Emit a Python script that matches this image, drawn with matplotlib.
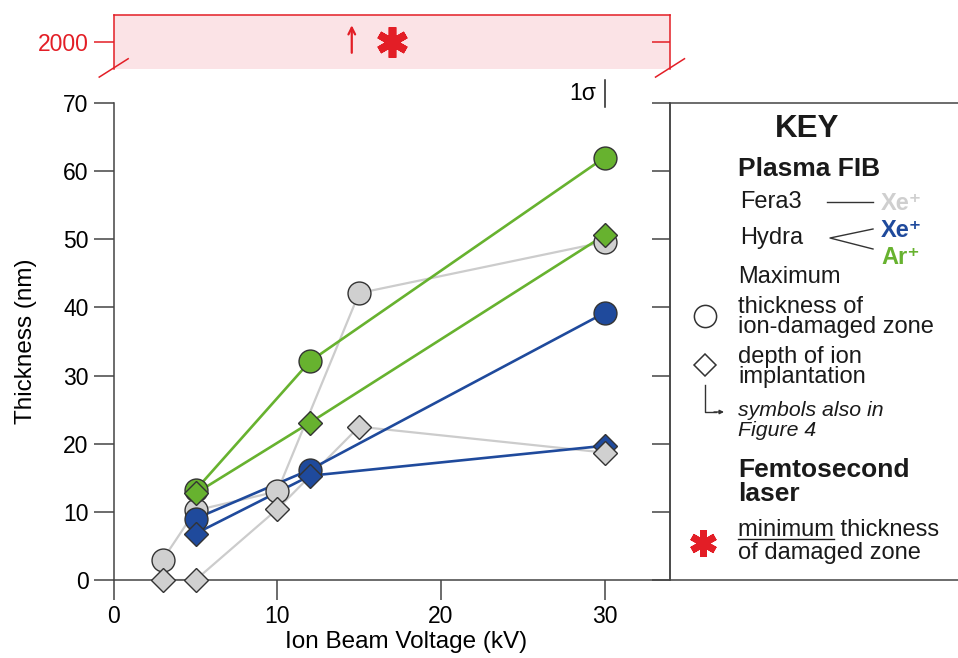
import numpy as np
import matplotlib.pyplot as plt
from matplotlib.lines import Line2D
from matplotlib.patches import Rectangle, FancyArrowPatch

plt.rcParams['font.family'] = ['Liberation Sans', 'DejaVu Sans']

# Fera3 plasma FIB, Xe+ beam
fera_xe_kv = [3, 5, 10, 15, 30]
fera_xe_damage = [3.0, 10.2, 13.0, 42.1, 49.6]
fera_xe_implant = [0.0, 0.0, 10.4, 22.5, 18.7]

# Hydra plasma FIB, Xe+ beam
hydra_xe_kv = [5, 12, 30]
hydra_xe_damage = [9.0, 16.2, 39.2]
hydra_xe_implant = [6.8, 15.3, 19.7]

# Hydra plasma FIB, Ar+ beam
hydra_ar_kv = [5, 12, 30]
hydra_ar_damage = [13.2, 32.1, 62.0]
hydra_ar_implant = [12.7, 23.1, 50.6]

# femtosecond laser, minimum damaged thickness (nm)
laser_kv = [17]
laser_nm = [2000]

# 1 sigma scale bar
sigma_kv = 30
sigma_base = 69.4
sigma_nm = 4.0

x_ticks = [0, 10, 20, 30]
y_ticks = [0, 10, 20, 30, 40, 50, 60, 70]

GREY_LINE = '#cccccc'
GREY_FILL = '#d0d0d0'
BLUE = '#1f4a9c'
GREEN = '#67b22f'
EDGE = '#333333'
AXIS = '#444444'
RED = '#e31e26'
PINK = '#fbe3e6'

W, H = 958, 658
fig = plt.figure(figsize=(W / 100, H / 100), dpi=100)


def fx(x):
    return x / W


def fy(y):
    return 1 - y / H


L, R, T, B = 113.7, 670, 103, 580

# ---- main panel ----
ax = fig.add_axes([fx(L), fy(B), (R - L) / W, (B - T) / H])
ax.set_xlim(0, 34)
ax.set_ylim(0, 70)
ax.set_xticks(x_ticks)
ax.set_yticks(y_ticks)
ax.spines['top'].set_visible(False)
for s in ['left', 'bottom', 'right']:
    ax.spines[s].set_color(AXIS)
    ax.spines[s].set_linewidth(1.1)
ax.tick_params(direction='out', length=14.5, width=1.1, color=AXIS,
               labelsize=16.5, pad=3.5)
ax.tick_params(axis='y', right=False)

ax_r = ax.twinx()
ax_r.set_ylim(0, 70)
ax_r.set_yticks(y_ticks)
ax_r.tick_params(direction='in', length=13, width=1.1, color=AXIS, labelright=False)
for s in ax_r.spines.values():
    s.set_visible(False)

ax.set_xlabel('Ion Beam Voltage (kV)', fontsize=17.5)
ax.xaxis.set_label_coords((406.5 - L) / (R - L), -(631 - B) / (B - T))
ax.set_ylabel('Thickness (nm)', fontsize=17.5)
ax.yaxis.set_label_coords(-(L - 37) / (R - L), 0.5)

# connecting lines
ax.plot(fera_xe_kv, fera_xe_damage, '-', color=GREY_LINE, lw=1.6, zorder=2)
ax.plot(fera_xe_kv, fera_xe_implant, '-', color=GREY_LINE, lw=1.6, zorder=2)
ax.plot(hydra_xe_kv, hydra_xe_damage, '-', color=BLUE, lw=1.9, zorder=3)
ax.plot(hydra_xe_kv, hydra_xe_implant, '-', color=BLUE, lw=1.9, zorder=3)
ax.plot(hydra_ar_kv, hydra_ar_damage, '-', color=GREEN, lw=1.9, zorder=3)
ax.plot(hydra_ar_kv, hydra_ar_implant, '-', color=GREEN, lw=1.9, zorder=3)

# markers: circles = damaged zone, diamonds = implantation depth
mk = dict(linestyle='none', mec=EDGE, mew=1.0, clip_on=False)
ax.plot(fera_xe_kv, fera_xe_damage, 'o', ms=16.5, mfc=GREY_FILL, zorder=4, **mk)
ax.plot(hydra_xe_kv, hydra_xe_damage, 'o', ms=16.5, mfc=BLUE, zorder=5, **mk)
ax.plot(hydra_ar_kv, hydra_ar_damage, 'o', ms=16.5, mfc=GREEN, zorder=5, **mk)
ax.plot(hydra_xe_kv, hydra_xe_implant, 'D', ms=12.5, mfc=BLUE, zorder=6, **mk)
ax.plot(hydra_ar_kv, hydra_ar_implant, 'D', ms=12.5, mfc=GREEN, zorder=6, **mk)
ax.plot(fera_xe_kv, fera_xe_implant, 'D', ms=12.5, mfc=GREY_FILL, zorder=7, **mk)

# 1 sigma bar above the plot
ax.plot([sigma_kv, sigma_kv], [sigma_base, sigma_base + sigma_nm], color='#222222',
        lw=1.1, clip_on=False)
ax.text(sigma_kv - 0.5, sigma_base + sigma_nm / 2, '1σ', ha='right', va='center',
        fontsize=16.5, family=['Liberation Sans', 'DejaVu Sans'])

# ---- broken upper panel for the laser value ----
PT, PB = 15, 69
top = fig.add_axes([fx(L), fy(PB), (R - L) / W, (PB - PT) / H])
top.set_xlim(0, 34)
top.set_ylim(1900, 2100)
top.set_facecolor(PINK)
top.spines['bottom'].set_visible(False)
for s in ['left', 'right', 'top']:
    top.spines[s].set_color(RED)
    top.spines[s].set_linewidth(1.1)
top.set_xticks([])
top.set_yticks([2000])
top.tick_params(axis='y', direction='out', length=14.5, width=1.1, colors=RED,
                labelsize=16.5, pad=3.5)
top_r = top.twinx()
top_r.set_ylim(1900, 2100)
top_r.set_yticks([2000])
top_r.tick_params(direction='in', length=13, width=1.1, colors=RED, labelright=False)
for s in top_r.spines.values():
    s.set_visible(False)

top.plot(laser_kv, laser_nm, marker=(6, 2, 0), ms=22, mew=5.5, color=RED,
         linestyle='none', clip_on=False)
top.annotate('', xy=(laser_kv[0] - 2.45, laser_nm[0] + 62),
             xytext=(laser_kv[0] - 2.45, laser_nm[0] - 40),
             arrowprops=dict(arrowstyle='->', color=RED, lw=1.6,
                             mutation_scale=12, shrinkA=0, shrinkB=0))

# break marks
d = 0.026
for x0 in (0, 1):
    top.plot([x0 - d, x0 + d], [-0.15, 0.19], color=RED, lw=1.1,
             transform=top.transAxes, clip_on=False)

# ---- key ----
fig.add_artist(Rectangle((fx(R), fy(B)), (W + 20 - R) / W, (B - T) / H,
                         transform=fig.transFigure, fill=False,
                         edgecolor=AXIS, lw=1.1, clip_on=False))

TXT = '#1a1a1a'
fig.text(fx(807), fy(129), 'KEY', ha='center', va='center', fontsize=22.5,
         weight='bold', color=TXT)
fig.text(fx(738), fy(169), 'Plasma FIB', ha='left', va='center', fontsize=19,
         weight='bold', color=TXT)
fig.text(fx(740), fy(202), 'Fera3', ha='left', va='center', fontsize=17, color=TXT)
fig.text(fx(740), fy(238), 'Hydra', ha='left', va='center', fontsize=17, color=TXT)
fig.add_artist(Line2D([fx(827), fx(873)], [fy(202), fy(202)], color=EDGE, lw=1.0))
fig.add_artist(Line2D([fx(873), fx(830), fx(873)], [fy(229), fy(238), fy(249)],
                      color=EDGE, lw=1.0))
fig.text(fx(881), fy(203), 'Xe⁺', ha='left', va='center', fontsize=17,
         weight='bold', color='#cfcfcf')
fig.text(fx(881), fy(230), 'Xe⁺', ha='left', va='center', fontsize=17,
         weight='bold', color=BLUE)
fig.text(fx(881), fy(258), 'Ar⁺', ha='left', va='center', fontsize=17,
         weight='bold', color=GREEN)

fig.text(fx(738), fy(277), 'Maximum', ha='left', va='center', fontsize=17, color=TXT)
fig.text(fx(738), fy(307), 'thickness of', ha='left', va='center', fontsize=17, color=TXT)
fig.text(fx(738), fy(327), 'ion-damaged zone', ha='left', va='center', fontsize=17,
         color=TXT)
fig.add_artist(Line2D([fx(705)], [fy(316)], marker='o', ms=16, mfc='white',
                      mec=EDGE, mew=1.1))
fig.text(fx(738), fy(357), 'depth of ion', ha='left', va='center', fontsize=17, color=TXT)
fig.text(fx(738), fy(377), 'implantation', ha='left', va='center', fontsize=17, color=TXT)
fig.add_artist(Line2D([fx(705)], [fy(365)], marker='D', ms=11.5, mfc='white',
                      mec=EDGE, mew=1.1))

fig.add_artist(Line2D([fx(705), fx(705), fx(716)], [fy(385), fy(412), fy(412)],
                      color=EDGE, lw=1.0))
fig.add_artist(FancyArrowPatch((fx(714), fy(412)), (fx(724), fy(412)),
                               transform=fig.transFigure, arrowstyle='-|>',
                               mutation_scale=6, color=EDGE, lw=1.0,
                               shrinkA=0, shrinkB=0))
fig.text(fx(738), fy(410), 'symbols also in', ha='left', va='center', fontsize=15.3,
         style='italic', color=TXT)
fig.text(fx(738), fy(431), 'Figure 4', ha='left', va='center', fontsize=15.3,
         style='italic', color=TXT)

fig.text(fx(738), fy(470), 'Femtosecond', ha='left', va='center', fontsize=19,
         weight='bold', color=TXT)
fig.text(fx(738), fy(494), 'laser', ha='left', va='center', fontsize=19,
         weight='bold', color=TXT)
fig.add_artist(Line2D([fx(703)], [fy(543)], marker=(6, 2, 0), ms=19, mew=5,
                      color=RED))
fig.text(fx(738), fy(536), 'minimum thickness', ha='left', va='baseline',
         fontsize=17, color=TXT)
fig.text(fx(738), fy(559), 'of damaged zone', ha='left', va='baseline',
         fontsize=17, color=TXT)

# underline the word "minimum"
renderer = fig.canvas.get_renderer()
probe = fig.text(fx(738), fy(536), 'minimum', ha='left', va='baseline', fontsize=17)
bb = probe.get_window_extent(renderer)
probe.remove()
fig.add_artist(Line2D([bb.x0 / W, bb.x1 / W], [fy(539), fy(539)], color=TXT, lw=1.0))

fig.savefig('out.png', dpi=100)
